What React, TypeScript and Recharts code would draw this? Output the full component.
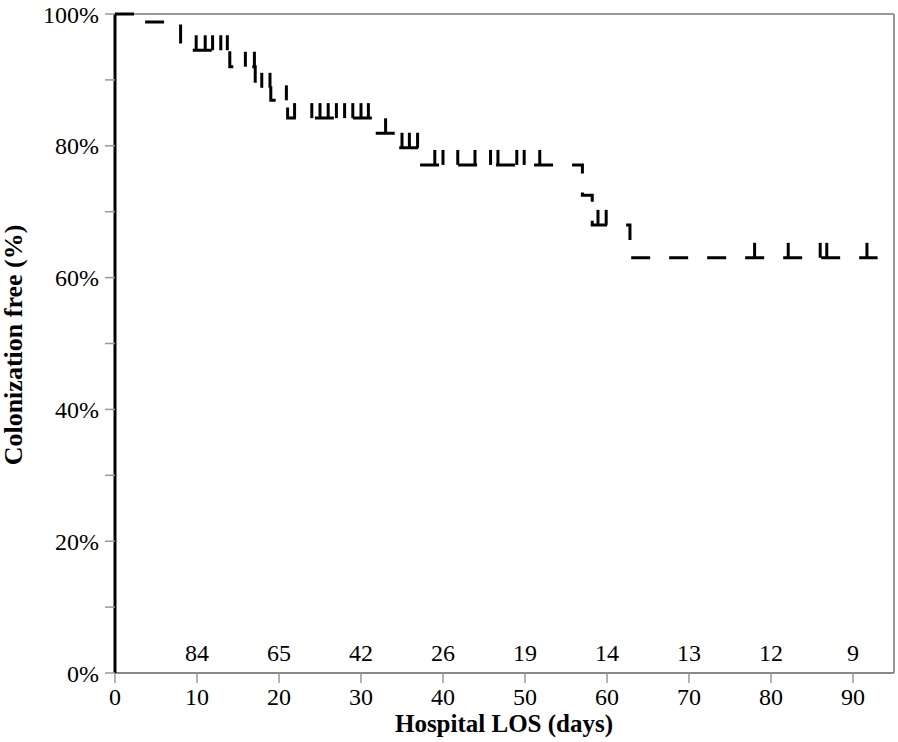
import React from 'react';
import {
  ComposedChart,
  Line,
  XAxis,
  YAxis,
  ReferenceLine,
  ReferenceDot,
} from 'recharts';

// Kaplan-Meier steps (day, % colonization free)
const eventDays = [0, 3, 8, 14, 17.1, 19.0, 21.05, 31.5, 34.6, 37.2, 57, 58.2, 62.8];
const eventSurvival = [100, 98.8, 94.5, 92.0, 88.8, 86.9, 84.2, 81.9, 79.7, 77.1, 72.5, 68.0, 63.0];

// censored observations (tick marks)
const censorDays = [
  9.9, 11, 11.9, 12.9, 13.7, 15.9, 17, 17.9, 18.9, 20.9, 21.9, 24, 25, 26, 27, 28, 29, 30, 30.9,
  33, 35, 35.9, 36.9, 39, 40, 41.8, 43.9, 45.8, 46.7, 49, 49.9, 51.8, 58.9, 59.9, 78, 82.1, 86,
  86.8, 91.7,
];
const lastDay = 93;

// numbers at risk
const atRiskDays = [10, 20, 30, 40, 50, 60, 70, 80, 90];
const atRiskCounts = [84, 65, 42, 26, 19, 14, 13, 12, 9];

const xTicks = [0, 10, 20, 30, 40, 50, 60, 70, 80, 90];
const yTicks = [0, 10, 20, 30, 40, 50, 60, 70, 80, 90, 100];

const FONT = '"Liberation Serif", "Times New Roman", serif';

const survAt = (day: number) => {
  let v = eventSurvival[0];
  eventDays.forEach((d, i) => {
    if (d <= day) v = eventSurvival[i];
  });
  return v;
};

const kmData = [
  ...eventDays.map((d, i) => ({ day: d, surv: eventSurvival[i], censored: false })),
  ...censorDays.map((d) => ({ day: d, surv: survAt(d), censored: true })),
  { day: lastDay, surv: survAt(lastDay), censored: false },
].sort((a, b) => a.day - b.day);

const CensorMark = (props: any) => {
  const { cx, cy, payload, index } = props;
  if (!payload || !payload.censored) return <g key={`c-${index}`} />;
  return (
    <line
      key={`c-${index}`}
      x1={cx}
      x2={cx}
      y1={cy}
      y2={cy - 15}
      stroke="#000"
      strokeWidth={3}
    />
  );
};

const App: React.FC = () => {
  return (
    <div style={{ position: 'absolute', left: 0, top: 0, width: 898, height: 742, background: '#fff' }}>
      <ComposedChart
        width={898}
        height={742}
        data={kmData}
        margin={{ top: 14, right: 4, bottom: 0, left: 0 }}
        style={{ fontFamily: FONT }}
      >
        <XAxis
          dataKey="day"
          type="number"
          domain={[0, 95]}
          ticks={xTicks}
          allowDataOverflow
          height={69}
          tickSize={10}
          tickMargin={5}
          stroke="#888"
          axisLine={{ stroke: '#888', strokeWidth: 2 }}
          tickLine={{ stroke: '#999', strokeWidth: 1.5 }}
          tick={{ fill: '#000', fontSize: 24, fontFamily: FONT }}
          label={{
            content: () => (
              <text
                x={504}
                y={732}
                textAnchor="middle"
                fontSize={25}
                fontWeight="bold"
                fontFamily={FONT}
                fill="#000"
              >
                Hospital LOS (days)
              </text>
            ),
          }}
        />
        <YAxis
          type="number"
          domain={[0, 100]}
          ticks={yTicks}
          width={115}
          interval={0}
          tickSize={10}
          tickMargin={6}
          tickFormatter={(v: number) => (v % 20 === 0 ? `${v}%` : '')}
          axisLine={{ stroke: '#000', strokeWidth: 3 }}
          tickLine={{ stroke: '#999', strokeWidth: 1.5 }}
          tick={{ fill: '#000', fontSize: 24, fontFamily: FONT }}
          label={{
            content: () => (
              <text
                transform="translate(22, 345) rotate(-90)"
                textAnchor="middle"
                fontSize={26}
                fontWeight="bold"
                fontFamily={FONT}
                fill="#000"
              >
                Colonization free (%)
              </text>
            ),
          }}
        />
        <ReferenceLine y={100} stroke="#999" strokeWidth={2} />
        <ReferenceLine x={95} stroke="#999" strokeWidth={2} />
        {atRiskDays.map((d, i) => (
          <ReferenceDot
            key={`risk-${d}`}
            x={d}
            y={0}
            r={0}
            fill="none"
            stroke="none"
            label={{
              value: atRiskCounts[i],
              position: 'center',
              dy: -21,
              fontSize: 24,
              fontFamily: FONT,
              fill: '#000',
            }}
          />
        ))}
        <Line
          type="stepAfter"
          dataKey="surv"
          stroke="#000"
          strokeWidth={3}
          strokeDasharray="19 19"
          dot={CensorMark}
          activeDot={false}
          isAnimationActive={false}
        />
      </ComposedChart>
    </div>
  );
};

export default App;
